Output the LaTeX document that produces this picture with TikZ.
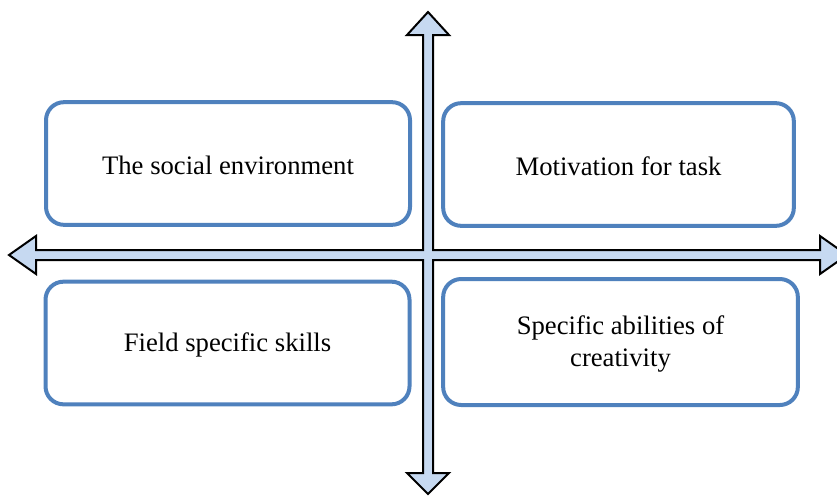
\documentclass[tikz,border=0pt]{standalone}
\usepackage{fontspec}
\setmainfont{Liberation Serif}
\usetikzlibrary{positioning}

\begin{document}
\begin{tikzpicture}[x=0.75pt,y=-0.75pt,line join=miter,
                    font=\fontsize{20}{23.5}\selectfont]
  \tikzstyle{every node}=[align=center,text=black]
  \tikzstyle{factor}=[draw=boxblue,line width=3pt,fill=white,rounded corners=13.5pt,
                      minimum width=273pt,minimum height=92pt,inner sep=0pt]
  \tikzstyle{label text}=[inner sep=0pt,yshift=-1.5pt]
  \tikzstyle{axis}=[draw=black,line width=1.5pt,fill=axisblue]
  \definecolor{boxblue}{RGB}{79,129,189}
  \definecolor{axisblue}{RGB}{198,217,241}

  \clip (0,0) rectangle (837,496);

  % the two crossing double arrows
  \path[axis] (428,12) -- (449,35) -- (433,35) -- (433,250) -- (820,250) -- (820,236)
     -- (847,255) -- (820,274) -- (820,260) -- (433,260) -- (433,473) -- (449,473)
     -- (428,494) -- (407,473) -- (423,473) -- (423,260) -- (36,260) -- (36,274)
     -- (9,255) -- (36,236) -- (36,250) -- (423,250) -- (423,35) -- (407,35) -- cycle;

  \node[factor] (Social)   at (228,163.5) {};
  \node[factor,minimum width=263pt] (Motive) at (618.5,164.5) {};
  \node[factor] (Skills)   at (227.5,343)  {};
  \node[factor,minimum width=266pt,minimum height=94.5pt] (Ability) at (620.5,342) {};

  \node[label text] (SocialText)  at (Social.center)  {The social environment};
  \node[label text] (MotiveText)  at (Motive.center)  {Motivation for task};
  \node[label text] (SkillsText)  at (Skills.center)  {Field specific skills};
  \node[label text] (AbilityText) at (Ability.center) {Specific abilities of\\creativity};
\end{tikzpicture}
\end{document}
